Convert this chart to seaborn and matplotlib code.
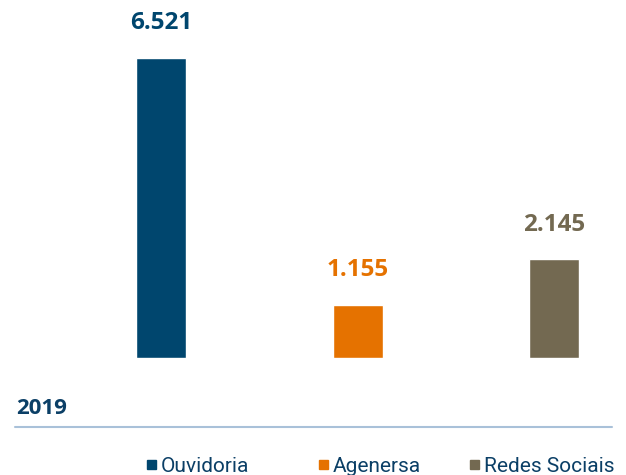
import matplotlib
matplotlib.use("Agg")
import matplotlib.pyplot as plt
import seaborn as sns
import pandas as pd

categories = ["Ouvidoria", "Agenersa", "Redes Sociais"]
values = [6521, 1155, 2145]
value_labels = ["6.521", "1.155", "2.145"]
colors = ["#00466e", "#e57200", "#736951"]
year_label = "2019"

sns.set_theme(style="white")
plt.rcParams["font.family"] = ["Open Sans", "DejaVu Sans"]

W, H = 626, 475
fig = plt.figure(figsize=(W / 100, H / 100), dpi=100)

# plot area: baseline at y=358 px, tallest bar reaching y=58 px
bottom_px, top_px = 358, 58
ax = fig.add_axes([0, (H - bottom_px) / H, 1, (bottom_px - top_px) / H])

df = pd.DataFrame({"categoria": categories, "valor": values})
spacing = 196.5
bar_w = 50 / spacing
sns.barplot(data=df, x="categoria", y="valor", hue="categoria",
            palette=colors, width=bar_w, legend=False, ax=ax,
            saturation=1, dodge=False)

ax.set_xlim(-161 / spacing, (W - 161) / spacing)
ax.set_ylim(0, max(values))
ax.axis("off")

for i, (v, lab, c) in enumerate(zip(values, value_labels, colors)):
    ax.annotate(lab, (i, v), xytext=(0, 25), textcoords="offset points",
                ha="center", va="center", fontsize=17.5, fontweight="bold",
                color=c, annotation_clip=False)

# year label and separator
fig.text(16 / W, 1 - 408 / H, year_label, ha="left", va="center",
         fontsize=16, fontweight="bold", color="#0b3f66")
fig.add_artist(plt.Line2D([15 / W, 612 / W], [1 - 427 / H, 1 - 427 / H],
                          color="#a9c1d9", lw=1.5))

# legend
legend_x = [147, 319, 470]
for x, name, c in zip(legend_x, categories, colors):
    fig.patches.append(plt.Rectangle((x / W, 1 - 469 / H), 9 / W, 9 / H,
                                     transform=fig.transFigure, color=c))
    fig.text((x + 14) / W, 1 - 472 / H, name, ha="left", va="baseline",
             fontsize=15, color="#0b3f66", family=["Roboto", "DejaVu Sans"])

fig.savefig("out.png", dpi=100)
